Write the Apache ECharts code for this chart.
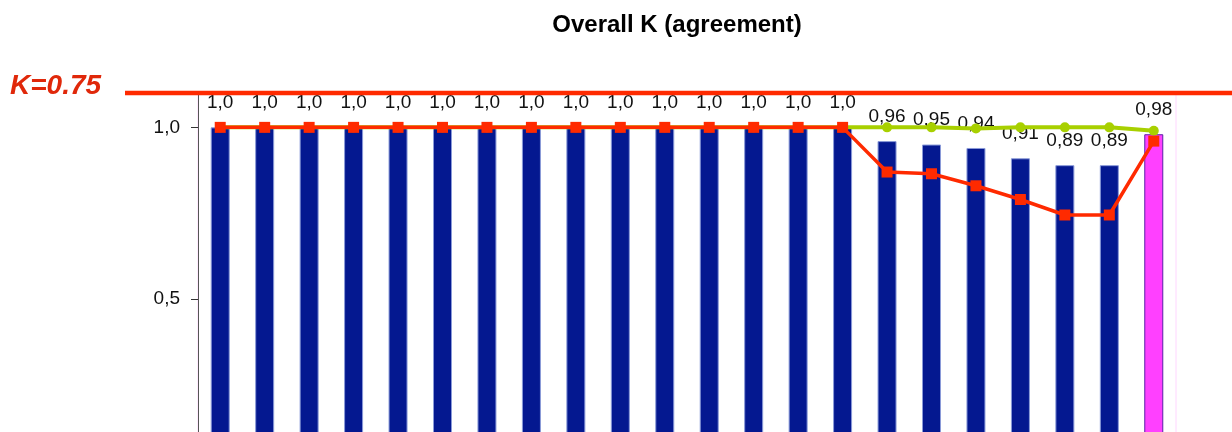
<!DOCTYPE html>
<html>
<head>
<meta charset="utf-8">
<script src="https://cdn.jsdelivr.net/npm/echarts@6/dist/echarts.min.js"></script>
<style>
  html, body { margin: 0; padding: 0; background: #fff; }
  #chart { width: 1232px; height: 432px; }
</style>
</head>
<body>
<div id="chart"></div>
<script>
// Raters / categories along the x axis
const categories = ['1', '2', '3', '4', '5', '6', '7', '8', '9', '10', '11',
  '12', '13', '14', '15', '16', '17', '18', '19', '20', '21', 'Overall'];

// Kappa per category (bars)
const kappaValues = [1.0, 1.0, 1.0, 1.0, 1.0, 1.0, 1.0, 1.0, 1.0, 1.0, 1.0,
  1.0, 1.0, 1.0, 1.0, 0.96, 0.95, 0.94, 0.91, 0.89, 0.89, 0.98];

// Upper bound (green line)
const upperValues = [1.0, 1.0, 1.0, 1.0, 1.0, 1.0, 1.0, 1.0, 1.0, 1.0, 1.0,
  1.0, 1.0, 1.0, 1.0, 1.0, 1.0, 0.997, 1.0, 1.0, 1.0, 0.99];

// Lower bound (red line)
const lowerValues = [1.0, 1.0, 1.0, 1.0, 1.0, 1.0, 1.0, 1.0, 1.0, 1.0, 1.0,
  1.0, 1.0, 1.0, 1.0, 0.87, 0.865, 0.83, 0.79, 0.745, 0.745, 0.96];

// Y axis ticks
const yTicks = [0, 0.5, 1.0];
const yMax = 1.1;

// Threshold annotation
const kLabel = 'K=0.75';
const kLineLevel = 1.1;

const fmt = v => (v === 1 ? '1,0' : v.toFixed(2).replace('.', ','));

const chart = echarts.init(document.getElementById('chart'), null, { renderer: 'canvas' });

const lastIdx = categories.length - 1;
const barData = kappaValues.map((v, i) => ({
  value: v,
  itemStyle: i === lastIdx
    ? { color: '#ff40ff', borderColor: '#5a1fa8', borderWidth: 1 }
    : { color: '#041890', borderColor: '#8a9ad8', borderWidth: 1 }
}));

chart.setOption({
  animation: false,
  backgroundColor: '#ffffff',
  title: {
    text: 'Overall K (agreement)',
    left: 672,
    textAlign: 'center',
    top: 8,
    textStyle: { fontFamily: 'Liberation Sans, Arial, sans-serif', fontWeight: 'bold', fontSize: 24, color: '#000' }
  },
  grid: {
    left: 198, width: 978, top: 93, height: 378,
    outerBoundsMode: 'none',
    containLabel: false,
    show: true, borderColor: '#ffd6ff', borderWidth: 1
  },
  xAxis: {
    type: 'category',
    data: categories,
    axisLine: { show: false },
    axisTick: { show: false },
    axisLabel: { show: false }
  },
  yAxis: {
    type: 'value',
    min: 0,
    max: yMax,
    interval: 0.5,
    splitLine: { show: false },
    axisLine: { show: true, lineStyle: { color: '#555', width: 1 } },
    axisTick: { show: true, length: 7, lineStyle: { color: '#333' }, customValues: yTicks },
    axisLabel: {
      margin: 18,
      fontFamily: 'Liberation Sans, Arial, sans-serif',
      fontSize: 19,
      color: '#111',
      customValues: yTicks,
      formatter: v => v.toFixed(1).replace('.', ',')
    }
  },
  series: [
    {
      type: 'bar',
      data: barData,
      barWidth: 19,
      z: 2,
      label: {
        show: true,
        position: 'top',
        distance: 15,
        fontFamily: 'Liberation Sans, Arial, sans-serif',
        fontSize: 19,
        color: '#111',
        formatter: p => fmt(p.value)
      }
    },
    {
      type: 'line',
      data: upperValues,
      z: 3,
      symbol: 'circle',
      symbolSize: 10,
      lineStyle: { color: '#a8d000', width: 4 },
      itemStyle: { color: '#a8d000' }
    },
    {
      type: 'line',
      data: lowerValues,
      z: 4,
      symbol: 'rect',
      symbolSize: 11,
      lineStyle: { color: '#ff2a00', width: 3.5 },
      itemStyle: { color: '#ff2a00' }
    }
  ]
});

// Threshold line across the top with its label on the left
const kY = chart.convertToPixel({ yAxisIndex: 0 }, kLineLevel);
chart.setOption({
  graphic: [
    {
      type: 'line',
      shape: { x1: 125, y1: kY, x2: chart.getWidth(), y2: kY },
      style: { stroke: '#ff2a00', lineWidth: 4.5 },
      z: 10
    },
    {
      type: 'text',
      left: 10,
      top: kY - 21,
      style: {
        text: kLabel,
        fill: '#e0280a',
        font: 'italic bold 28px "Liberation Sans", Arial, sans-serif',
        textVerticalAlign: 'middle'
      },
      z: 10
    }
  ]
});
</script>
</body>
</html>
